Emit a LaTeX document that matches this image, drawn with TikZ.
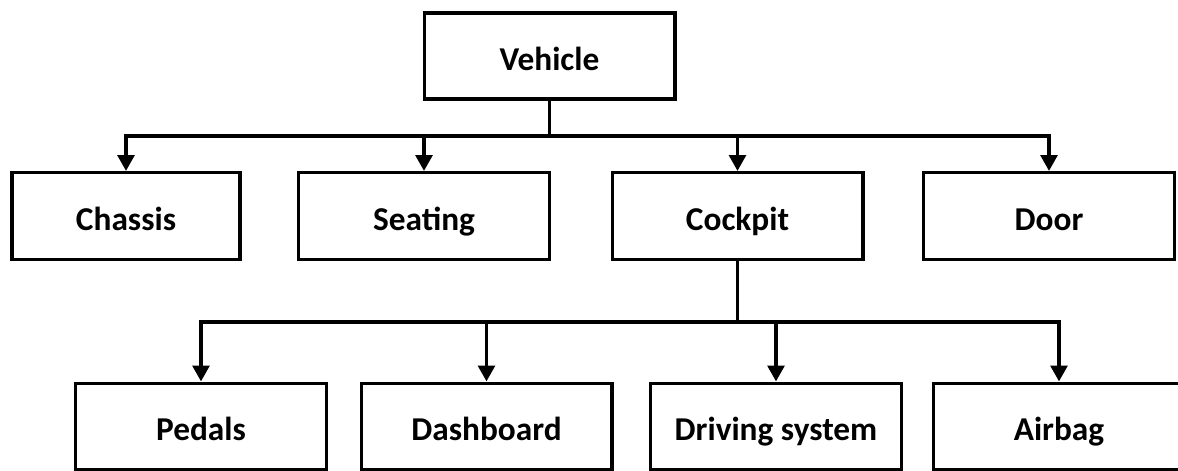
\documentclass[tikz,border=0pt]{standalone}
\usepackage{fontspec}
\setmainfont{Carlito}
\usetikzlibrary{arrows.meta}
\begin{document}
\begin{tikzpicture}[x=0.75pt,y=-0.75pt,
  box/.style={draw=black,line width=2.5pt,fill=white,inner sep=0pt,
    minimum width=188pt,minimum height=65pt,text height=21pt,text depth=0pt,
    font=\fontsize{25}{29}\selectfont\bfseries},
  conn/.style={line width=2.9pt,draw=black},
  tip/.style={conn,-{Triangle[width=12.5pt,length=12pt]}}]
\useasboundingbox (0,0) rectangle (1178,471);
\fill[white] (0,0) rectangle (1178,471);
% top
\node[box,minimum height=64.5pt] (veh) at (549.5,56) {Vehicle};
% row 2
\node[box,minimum width=171pt] (chassis) at (126,216) {Chassis};
\node[box] (seating) at (424,216) {Seating};
\node[box] (cockpit) at (737.5,216) {Cockpit};
\node[box] (door) at (1049,216) {Door};
% row 3
\node[box] (pedals) at (201,426.5) {Pedals};
\node[box] (dash) at (486.5,426.5) {Dashboard};
\node[box] (drive) at (776,426.5) {Driving system};
\node[box] (airbag) at (1059,426.5) {Airbag};
% bus points
\coordinate (b1) at (549.5,136);
\coordinate (b2) at (737.5,322);
% connectors level 1
\draw[conn] (veh.south) -- (b1);
\draw[tip] (b1) -| (chassis.north);
\draw[tip] (b1) -| (seating.north);
\draw[tip] (b1) -| (cockpit.north);
\draw[tip] (b1) -| (door.north);
% connectors level 2
\draw[conn] (cockpit.south) -- (b2);
\draw[tip] (b2) -| (pedals.north);
\draw[tip] (b2) -| (dash.north);
\draw[tip] (b2) -| (drive.north);
\draw[tip] (b2) -| (airbag.north);
\end{tikzpicture}
\end{document}
